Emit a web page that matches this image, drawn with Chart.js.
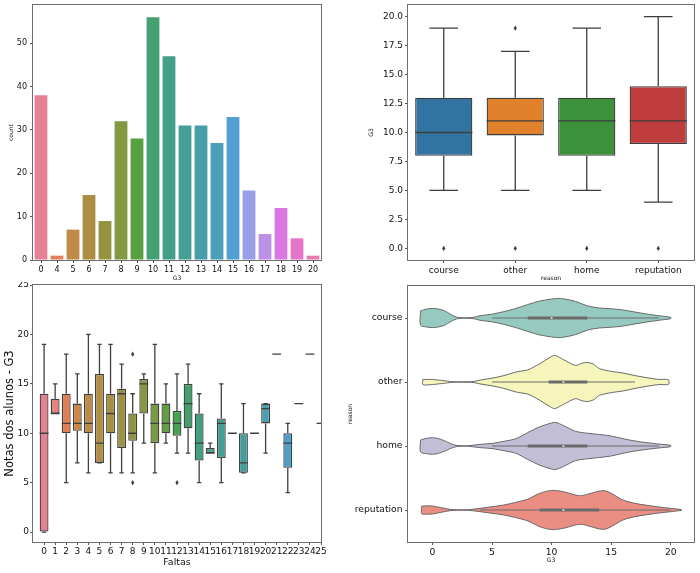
<!DOCTYPE html>
<html>
<head>
<meta charset="utf-8">
<script src="https://cdn.jsdelivr.net/npm/chart.js@4.4.1/dist/chart.umd.min.js"></script>
<style>
  body { margin: 0; background: #fff; }
  #quadro { position: relative; width: 700px; height: 573px; overflow: hidden; }
  canvas { position: absolute; }
</style>
</head>
<body>
<div id="quadro">
  <canvas id="contagem" width="350" height="282" style="left:0;top:0"></canvas>
  <canvas id="motivoBox" width="350" height="282" style="left:350px;top:0"></canvas>
  <canvas id="faltasBox" width="350" height="291" style="left:0;top:282px"></canvas>
  <canvas id="violino" width="360" height="291" style="left:340px;top:282px"></canvas>
</div>
<script>
// ---- dados: contagem de G3
var g3Valores = ['0', '4', '5', '6', '7', '8', '9', '10', '11', '12', '13', '14', '15', '16', '17', '18', '19', '20'];
var g3Contagem = [38, 1, 7, 15, 9, 32, 28, 56, 47, 31, 31, 27, 33, 16, 6, 12, 5, 1];
var contagemTicks = [0, 10, 20, 30, 40, 50];

// ---- dados: G3 por reason (boxplot)
var motivos = ['course', 'other', 'home', 'reputation'];
var motivoMin = [5, 5, 5, 4];
var motivoQ1 = [8, 9.75, 8, 9];
var motivoMed = [10, 11, 11, 11];
var motivoQ3 = [13, 13, 13, 14];
var motivoMax = [19, 17, 19, 20];
var motivoFora = [[0], [19, 0], [0], [0]];
var motivoTicks = [0, 2.5, 5, 7.5, 10, 12.5, 15, 17.5, 20];

// ---- dados: G3 por faltas (boxplot)
var faltas = [0, 1, 2, 3, 4, 5, 6, 7, 8, 9, 10, 11, 12, 13, 14, 15, 16, 17, 18, 19, 20, 21, 22, 23, 24, 25];
var faltasMin = [0, 12, 5, 7, 6, 7, 6, 6, 6, 9, 6, 9, 8, 8, 5, 8, 5, 10, 6, 10, 8, 18, 4, 13, 18, 11];
var faltasQ1 = [0, 12, 10, 10.25, 10, 7, 10, 8.5, 9.25, 12, 9, 10, 9.75, 10.5, 7.25, 8, 7.5, 10, 6, 10, 11, 18, 6.5, 13, 18, 11];
var faltasMed = [10, 12, 11, 11, 11, 9, 12, 14, 10, 15, 11, 11, 11, 13, 9, 8, 11, 10, 7, 10, 12.5, 18, 9, 13, 18, 11];
var faltasQ3 = [14, 13.5, 14, 13, 14, 16, 14, 14.5, 12, 15.5, 13, 13, 12.25, 15, 12, 8.5, 11.5, 10, 10, 10, 13, 18, 10, 13, 18, 11];
var faltasMax = [19, 15, 18, 16, 20, 19, 19, 17, 14, 16, 19, 15, 16, 17, 14, 9, 15, 10, 13, 10, 13, 18, 11, 13, 18, 11];
var faltasFora = [[], [], [], [], [], [], [], [], [18, 5], [], [], [], [5], [], [], [], [], [], [], [], [], [], [], [], [], []];
var faltasNiveis = 34; // niveis de faltas no dataset (a paleta usa todos)
var faltasTicksY = [0, 5, 10, 15, 20, 25];

// ---- dados: violino G3 por reason (meia largura da densidade em cada nota)
var violinoG = [
  [-1, -0.5, 0, 0.5, 1, 1.5, 2, 2.5, 3, 3.5, 4, 5, 6, 7, 8, 9, 10, 10.5, 11, 12, 13, 14, 15, 16, 17, 18, 19, 20],
  [-0.8, 0, 0.5, 1, 1.5, 2, 3, 3.5, 4, 5, 6, 7, 8, 9, 10, 10.3, 11, 12, 12.5, 13, 13.5, 14, 15, 16, 17, 18, 19, 19.8],
  [-1, -0.5, 0, 0.5, 1, 1.5, 2, 2.5, 3, 4, 5, 6, 7, 8, 9, 10, 10.3, 11, 12, 13, 14, 15, 16, 17, 18, 19, 20],
  [-0.9, -0.5, 0, 0.5, 1, 1.5, 2, 3, 4, 5, 6, 7, 8, 9, 10, 11, 12, 12.5, 13, 14, 14.5, 15, 16, 17, 18, 19, 20, 20.9]
];
var violinoW = [
  [0.11, 0.14, 0.15, 0.14, 0.115, 0.06, 0.015, 0.005, 0.005, 0.012, 0.036, 0.06, 0.1, 0.15, 0.21, 0.265, 0.296, 0.306, 0.3, 0.26, 0.19, 0.156, 0.145, 0.125, 0.093, 0.062, 0.036, 0.01],
  [0.04, 0.04, 0.03, 0.02, 0.008, 0.004, 0.004, 0.01, 0.03, 0.06, 0.1, 0.156, 0.19, 0.285, 0.4, 0.415, 0.35, 0.26, 0.29, 0.305, 0.28, 0.21, 0.166, 0.14, 0.1, 0.067, 0.04, 0.036],
  [0.093, 0.12, 0.13, 0.115, 0.083, 0.04, 0.01, 0.004, 0.004, 0.026, 0.04, 0.073, 0.114, 0.21, 0.3, 0.36, 0.37, 0.32, 0.23, 0.2, 0.18, 0.156, 0.114, 0.078, 0.052, 0.03, 0.01],
  [0.06, 0.065, 0.062, 0.045, 0.026, 0.01, 0.005, 0.005, 0.026, 0.052, 0.078, 0.12, 0.17, 0.26, 0.306, 0.286, 0.234, 0.223, 0.244, 0.296, 0.3, 0.26, 0.156, 0.104, 0.073, 0.047, 0.026, 0.005]
];
var violinoTicksX = [0, 5, 10, 15, 20];

// ---- cores (husl do seaborn + dessaturacao 0.75)
var M = [[3.2406, -1.5372, -0.4986], [-0.9689, 1.8758, 0.0415], [0.0557, -0.2040, 1.0570]];
function maxCroma(L, H) {
  var hr = H / 180 * Math.PI, sh = Math.sin(hr), ch = Math.cos(hr);
  var s1 = Math.pow(L + 16, 3) / 1560896, s2 = s1 > 0.008856 ? s1 : L / 903.3;
  var res = Infinity;
  M.forEach(function(r) {
    var top = (0.99915 * r[0] + 1.05122 * r[1] + 1.14460 * r[2]) * s2;
    var rb = 0.86330 * r[2] - 0.17266 * r[1];
    var lb = 0.12949 * r[2] - 0.38848 * r[0];
    var bot = (rb * sh + lb * ch) * s2;
    [0, 1].forEach(function(t) {
      var C = L * (top - 1.05122 * t) / (bot + 0.17266 * sh * t);
      if (C > 0 && C < res) res = C;
    });
  });
  return res;
}
function husl(H, S, L) {
  var C = maxCroma(L, H) / 100 * S, hr = H / 180 * Math.PI;
  var U = Math.cos(hr) * C, V = Math.sin(hr) * C;
  var t = (L + 16) / 116, Y = Math.pow(t, 3) > 0.008856 ? Math.pow(t, 3) : (116 * t - 16) / 903.3;
  var vu = U / (13 * L) + 0.19784, vv = V / (13 * L) + 0.46834;
  var X = 0 - (9 * Y * vu) / ((vu - 4) * vv - vu * vv);
  var Z = (9 * Y - 15 * vv * Y - vv * X) / (3 * vv);
  return M.map(function(r) {
    var c = r[0] * X + r[1] * Y + r[2] * Z;
    c = c <= 0.0031308 ? 12.92 * c : 1.055 * Math.pow(c, 1 / 2.4) - 0.055;
    return Math.min(1, Math.max(0, c));
  });
}
function paletaHusl(n) {
  var out = [];
  for (var i = 0; i < n; i++) out.push(husl(((i / n) + 0.01) % 1 * 359, 0.9 * 99, 0.65 * 99));
  return out;
}
function hexRgb(h) {
  return [1, 3, 5].map(function(k) { return parseInt(h.substr(k, 2), 16) / 255; });
}
function luz(c) { return (Math.max.apply(null, c) + Math.min.apply(null, c)) / 2; }
function dessatura(c, f) {
  var l = luz(c);
  return c.map(function(v) { return l + (v - l) * f; });
}
function css(c) {
  return 'rgb(' + c.map(function(v) { return Math.round(v * 255); }).join(',') + ')';
}
function cinza(cores) {
  var m = Math.min.apply(null, cores.map(luz)) * 0.6;
  return css([m, m, m]);
}

var coresG3 = paletaHusl(g3Valores.length).map(function(c) { return dessatura(c, 0.75); });
var coresMotivo = ['#1f77b4', '#ff7f0e', '#2ca02c', '#d62728'].map(function(h) { return dessatura(hexRgb(h), 0.75); });
var coresFaltas = paletaHusl(faltasNiveis).map(function(c) { return dessatura(c, 0.75); });
var coresViolino = ['#8dd3c7', '#ffffb3', '#bebada', '#fb8072'].map(function(h) { return dessatura(hexRgb(h), 0.75); });

Chart.defaults.font.family = 'DejaVu Sans';
Chart.defaults.color = '#111';

// ---- ajudantes
function fixa(prop, v) {
  return function(s) {
    s[prop] = v;
    s.paddingTop = s.paddingBottom = s.paddingLeft = s.paddingRight = 0;
  };
}
function poeTicks(lista) {
  return function(s) { s.ticks = lista.map(function(v) { return {value: v}; }); };
}
var gradeTick = {offset: false, drawOnChartArea: false, tickLength: 3, color: '#555', lineWidth: 1};

var moldura = {
  id: 'moldura',
  afterDraw: function(chart) {
    var a = chart.chartArea, ctx = chart.ctx;
    ctx.save();
    ctx.strokeStyle = '#6e6e6e';
    ctx.lineWidth = 1;
    ctx.strokeRect(a.left - 0.5, a.top - 0.5, a.right - a.left + 1, a.bottom - a.top + 1);
    ctx.restore();
  }
};

function fazCaixas(mins, meds, maxs, fora, cor) {
  return {
    id: 'caixas',
    afterDatasetsDraw: function(chart) {
      var ctx = chart.ctx, a = chart.chartArea, y = chart.scales.y;
      var barras = chart.getDatasetMeta(0).data;
      ctx.save();
      ctx.beginPath();
      ctx.rect(a.left, a.top, a.right - a.left, a.bottom - a.top);
      ctx.clip();
      ctx.strokeStyle = cor;
      ctx.fillStyle = cor;
      ctx.lineWidth = 1.3;
      barras.forEach(function(b, i) {
        var cx = b.x, meia = b.width / 2;
        var raw = chart.data.datasets[0].data[i];
        var faixa = raw.y || raw;
        var p1 = y.getPixelForValue(faixa[0]), p3 = y.getPixelForValue(faixa[1]);
        var pmin = y.getPixelForValue(mins[i]), pmax = y.getPixelForValue(maxs[i]);
        var pmed = y.getPixelForValue(meds[i]);
        ctx.beginPath();
        ctx.moveTo(cx, p1); ctx.lineTo(cx, pmin);
        ctx.moveTo(cx, p3); ctx.lineTo(cx, pmax);
        ctx.moveTo(cx - meia / 2, pmin); ctx.lineTo(cx + meia / 2, pmin);
        ctx.moveTo(cx - meia / 2, pmax); ctx.lineTo(cx + meia / 2, pmax);
        ctx.moveTo(cx - meia, pmed); ctx.lineTo(cx + meia, pmed);
        ctx.stroke();
        fora[i].forEach(function(v) {
          var py = y.getPixelForValue(v);
          ctx.beginPath();
          ctx.moveTo(cx, py - 2.6); ctx.lineTo(cx + 1.6, py);
          ctx.lineTo(cx, py + 2.6); ctx.lineTo(cx - 1.6, py);
          ctx.closePath();
          ctx.fill();
        });
      });
      ctx.restore();
    }
  };
}

var base = {animation: false, responsive: false, devicePixelRatio: 1, events: []};

// ---- 1: contagem de G3
new Chart(document.getElementById('contagem'), {
  type: 'bar',
  data: {
    labels: g3Valores,
    datasets: [{data: g3Contagem, backgroundColor: coresG3.map(css), categoryPercentage: 0.8, barPercentage: 1}]
  },
  options: Object.assign({}, base, {
    layout: {padding: {top: 5, right: 29, left: 0, bottom: 0}},
    plugins: {legend: {display: false}, tooltip: {enabled: false}},
    scales: {
      x: {
        grid: gradeTick, border: {display: false},
        ticks: {font: {size: 8}, padding: 2, maxRotation: 0, autoSkip: false},
        title: {display: true, text: 'G3', font: {size: 6}, padding: {top: 0, bottom: 0}},
        afterFit: fixa('height', 22)
      },
      y: {
        min: 0, max: 58.8, afterBuildTicks: poeTicks(contagemTicks),
        grid: gradeTick, border: {display: false},
        ticks: {font: {size: 8}, padding: 3},
        title: {display: true, text: 'count', font: {size: 6}, padding: {top: 8, bottom: 0}},
        afterFit: fixa('width', 33)
      }
    }
  }),
  plugins: [moldura]
});

// ---- 2: boxplot G3 x reason
var faixasMotivo = motivos.map(function(m, i) { return [motivoQ1[i], motivoQ3[i]]; });
new Chart(document.getElementById('motivoBox'), {
  type: 'bar',
  data: {
    labels: motivos,
    datasets: [{
      data: faixasMotivo, backgroundColor: coresMotivo.map(css),
      borderColor: cinza(coresMotivo), borderWidth: 1.3, borderSkipped: false,
      categoryPercentage: 0.8, barPercentage: 1
    }]
  },
  options: Object.assign({}, base, {
    layout: {padding: {top: 5, right: 6, left: 0, bottom: 0}},
    plugins: {legend: {display: false}, tooltip: {enabled: false}},
    scales: {
      x: {
        grid: gradeTick, border: {display: false},
        ticks: {font: {size: 9}, padding: 2, maxRotation: 0, autoSkip: false},
        title: {display: true, text: 'reason', font: {size: 6}, padding: {top: 0, bottom: 0.4}},
        afterFit: fixa('height', 22)
      },
      y: {
        min: -1, max: 21, afterBuildTicks: poeTicks(motivoTicks),
        grid: gradeTick, border: {display: false},
        ticks: {font: {size: 9}, padding: 2, callback: function(v) { return v.toFixed(1); }},
        title: {display: true, text: 'G3', font: {size: 6}, padding: {top: 18, bottom: 0}},
        afterFit: fixa('width', 58)
      }
    }
  }),
  plugins: [fazCaixas(motivoMin, motivoMed, motivoMax, motivoFora, cinza(coresMotivo)), moldura]
});

// ---- 3: boxplot G3 x faltas
var coresFaltasUsadas = faltas.map(function(f, i) { return coresFaltas[i]; });
new Chart(document.getElementById('faltasBox'), {
  type: 'bar',
  data: {
    datasets: [{
      data: faltas.map(function(f, i) { return {x: i, y: [faltasQ1[i], faltasQ3[i]]}; }),
      backgroundColor: coresFaltasUsadas.map(css),
      borderColor: cinza(coresFaltas), borderWidth: 1.3, borderSkipped: false,
      categoryPercentage: 0.8, barPercentage: 1
    }]
  },
  options: Object.assign({}, base, {
    layout: {padding: {top: 3, right: 29, left: 0, bottom: 0}},
    plugins: {legend: {display: false}, tooltip: {enabled: false}},
    scales: {
      x: {
        type: 'linear', min: -1, max: 25, offset: false,
        afterBuildTicks: poeTicks(faltas.map(function(f, i) { return i; })),
        grid: gradeTick, border: {display: false},
        ticks: {font: {size: 9}, padding: 1, maxRotation: 0, autoSkip: false,
                callback: function(v) { return String(faltas[v]); }},
        title: {display: true, text: 'Faltas', font: {size: 9.5}, padding: {top: 0, bottom: 4.6}},
        afterFit: fixa('height', 31)
      },
      y: {
        min: -1, max: 25, afterBuildTicks: poeTicks(faltasTicksY),
        grid: gradeTick, border: {display: false},
        ticks: {font: {size: 9}, padding: 1},
        title: {display: true, text: 'Notas dos alunos - G3', font: {size: 11.5}, padding: {top: 3, bottom: 0}},
        afterFit: fixa('width', 33)
      }
    }
  }),
  plugins: [fazCaixas(faltasMin, faltasMed, faltasMax, faltasFora, cinza(coresFaltas)), moldura]
});

// ---- 4: violino G3 x reason
var cinzaViolino = cinza(coresViolino);
var dsViolino = [];
motivos.forEach(function(m, i) {
  var g = violinoG[i], w = violinoW[i];
  var cima = g.map(function(v, k) { return {x: v, y: i - w[k]}; });
  var baixo = g.map(function(v, k) { return {x: v, y: i + w[k]}; }).reverse();
  var contorno = cima.concat(baixo, [cima[0]]);
  dsViolino.push({data: contorno, fill: 'shape', backgroundColor: css(coresViolino[i]),
    borderColor: cinzaViolino, borderWidth: 1, pointRadius: 0, tension: 0.3, order: 3});
  dsViolino.push({data: [{x: motivoMin[i], y: i}, {x: motivoMax[i], y: i}],
    borderColor: cinzaViolino, borderWidth: 1, pointRadius: 0, fill: false, order: 2});
  dsViolino.push({data: [{x: motivoQ1[i], y: i}, {x: motivoQ3[i], y: i}],
    borderColor: cinzaViolino, borderWidth: 3, borderCapStyle: 'butt', pointRadius: 0, fill: false, order: 1});
  dsViolino.push({data: [{x: motivoMed[i], y: i}], showLine: false, pointRadius: 1.1,
    pointBackgroundColor: 'rgba(255,255,255,0.75)', pointBorderWidth: 0, order: 0});
});
new Chart(document.getElementById('violino'), {
  type: 'line',
  data: {datasets: dsViolino},
  options: Object.assign({}, base, {
    layout: {padding: {top: 3, right: 6, left: 0, bottom: 0}},
    plugins: {legend: {display: false}, tooltip: {enabled: false}},
    scales: {
      x: {
        type: 'linear', min: -2.05, max: 21.95, afterBuildTicks: poeTicks(violinoTicksX),
        grid: gradeTick, border: {display: false},
        ticks: {font: {size: 9.2}, padding: 2, maxRotation: 0},
        title: {display: true, text: 'G3', font: {size: 6}, padding: {top: 0, bottom: 9.4}},
        afterFit: fixa('height', 31)
      },
      y: {
        type: 'linear', min: -0.5, max: 3.5, reverse: true,
        afterBuildTicks: poeTicks([0, 1, 2, 3]),
        grid: gradeTick, border: {display: false},
        ticks: {font: {size: 9.2}, padding: 2.5, callback: function(v) { return motivos[v]; }},
        title: {display: true, text: 'reason', font: {size: 6}, padding: {top: 6.4, bottom: 0}},
        afterFit: fixa('width', 68)
      }
    }
  }),
  plugins: [moldura]
});
</script>
</body>
</html>
